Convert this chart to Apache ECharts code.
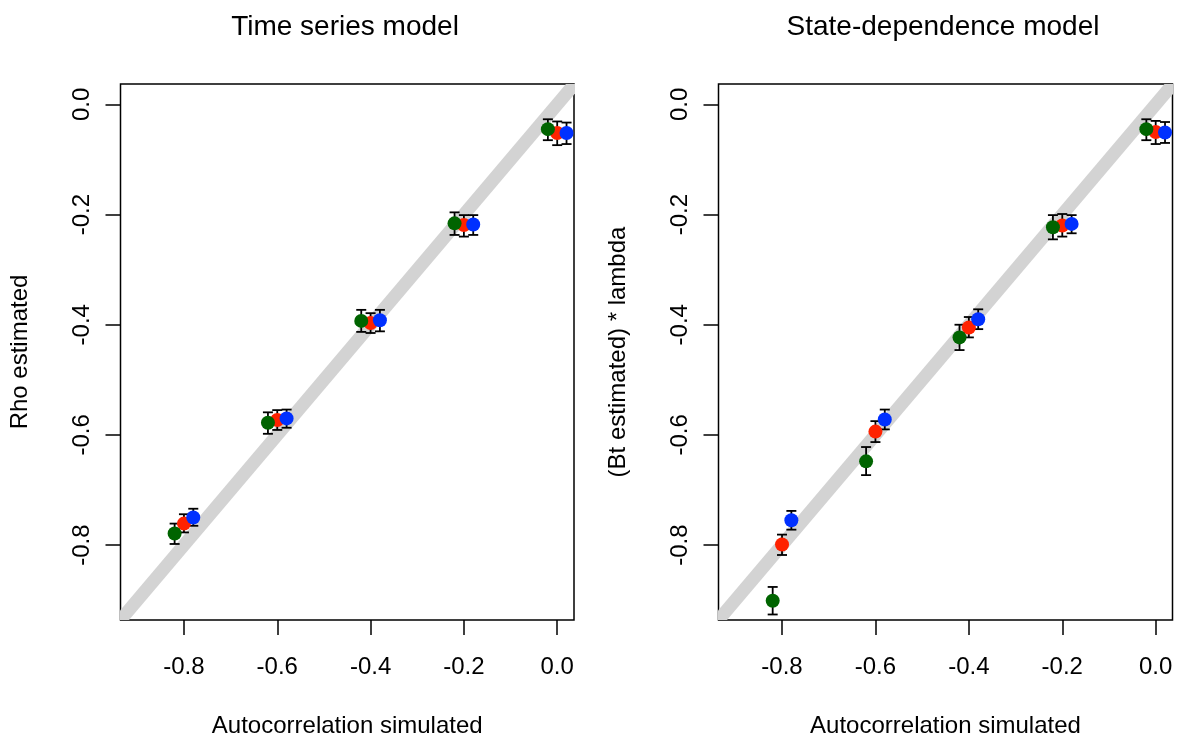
<!DOCTYPE html>
<html>
<head>
<meta charset="utf-8">
<script src="https://cdn.jsdelivr.net/npm/echarts@6/dist/echarts.min.js"></script>
<style>
  html, body { margin: 0; padding: 0; background: #fff; }
  #chart { width: 1177px; height: 743px; }
</style>
</head>
<body>
<div id="chart"></div>
<script>
// Simulated autocorrelation levels (x) and tick positions
const simulated = [-0.8, -0.6, -0.4, -0.2, 0.0];
const tickValues = [-0.8, -0.6, -0.4, -0.2, 0.0];
// ends of the 1:1 reference line
const identityEnds = [-1.1, 0.2];

// Time series model: estimated rho with lower / upper bounds
const tsGreen   = [-0.779, -0.578, -0.393, -0.216, -0.045];
const tsGreenLo = [-0.798, -0.598, -0.413, -0.237, -0.065];
const tsGreenHi = [-0.761, -0.559, -0.373, -0.196, -0.027];
const tsRed     = [-0.761, -0.573, -0.397, -0.219, -0.052];
const tsRedLo   = [-0.777, -0.591, -0.415, -0.240, -0.074];
const tsRedHi   = [-0.744, -0.555, -0.379, -0.201, -0.031];
const tsBlue    = [-0.750, -0.570, -0.392, -0.218, -0.052];
const tsBlueLo  = [-0.765, -0.587, -0.412, -0.237, -0.072];
const tsBlueHi  = [-0.734, -0.554, -0.373, -0.201, -0.033];

// State-dependence model: (Bt estimated) * lambda with lower / upper bounds
const sdGreen   = [-0.901, -0.648, -0.423, -0.223, -0.045];
const sdGreenLo = [-0.926, -0.673, -0.446, -0.245, -0.065];
const sdGreenHi = [-0.876, -0.622, -0.400, -0.201, -0.027];
const sdRed     = [-0.799, -0.594, -0.405, -0.220, -0.050];
const sdRedLo   = [-0.818, -0.613, -0.423, -0.240, -0.072];
const sdRedHi   = [-0.781, -0.575, -0.386, -0.199, -0.030];
const sdBlue    = [-0.755, -0.572, -0.390, -0.217, -0.051];
const sdBlueLo  = [-0.772, -0.590, -0.408, -0.234, -0.070];
const sdBlueHi  = [-0.738, -0.554, -0.372, -0.201, -0.032];

const FONT = '"Liberation Sans", Arial, Helvetica, sans-serif';
const COLORS = { green: '#006400', red: '#ff2200', blue: '#0030ff' };
// small horizontal dodge so the three groups do not overlap
const DODGE = { green: -0.02, red: 0, blue: 0.02 };

const panels = [
  {
    title: 'Time series model', titleX: 340,
    yName: 'Rho estimated',
    grid: { left: 120.5, top: 84, width: 453.5, height: 536 },
    groups: {
      red:   [tsRed, tsRedLo, tsRedHi],
      green: [tsGreen, tsGreenLo, tsGreenHi],
      blue:  [tsBlue, tsBlueLo, tsBlueHi]
    }
  },
  {
    title: 'State-dependence model', titleX: 938,
    yName: '(Bt estimated) * lambda',
    grid: { left: 718.5, top: 84, width: 454, height: 536 },
    groups: {
      red:   [sdRed, sdRedLo, sdRedHi],
      green: [sdGreen, sdGreenLo, sdGreenHi],
      blue:  [sdBlue, sdBlueLo, sdBlueHi]
    }
  }
];

const fmt = v => Number(v).toFixed(1);
const tickStyle = { show: true, length: 15, inside: false, customValues: tickValues,
                    lineStyle: { color: '#000', width: 1.5 } };

const grids = [], xAxes = [], yAxes = [], titles = [], series = [];

panels.forEach((p, i) => {
  grids.push(Object.assign({ show: true, borderColor: '#000', borderWidth: 1.5,
                             backgroundColor: 'transparent' }, p.grid));
  titles.push({
    text: p.title, left: p.titleX, top: 8, textAlign: 'center',
    textStyle: { fontFamily: FONT, fontSize: 28, fontWeight: 'normal', color: '#000' }
  });
  xAxes.push({
    type: 'value', gridIndex: i, min: -0.936, max: 0.036, position: 'bottom',
    name: 'Autocorrelation simulated', nameLocation: 'middle', nameGap: 94,
    nameTextStyle: { fontFamily: FONT, fontSize: 24, color: '#000' },
    axisLine: { show: false, onZero: false }, splitLine: { show: false },
    axisTick: tickStyle,
    axisLabel: { customValues: tickValues, formatter: fmt, margin: 35,
                 fontFamily: FONT, fontSize: 24, color: '#000' }
  });
  yAxes.push({
    type: 'value', gridIndex: i, min: -0.936, max: 0.037, position: 'left',
    name: p.yName, nameLocation: 'middle', nameGap: 88,
    nameTextStyle: { fontFamily: FONT, fontSize: 24, color: '#000' },
    axisLine: { show: false, onZero: false }, splitLine: { show: false },
    axisTick: tickStyle,
    axisLabel: { customValues: tickValues, formatter: fmt, rotate: 90, margin: 26,
                 fontFamily: FONT, fontSize: 24, color: '#000' }
  });

  // 1:1 reference band, clipped exactly to the plot box
  series.push({
    type: 'custom', name: 'identity', xAxisIndex: i, yAxisIndex: i,
    silent: true, clip: true, z: 1,
    data: [[identityEnds[0], identityEnds[0], identityEnds[1], identityEnds[1]]],
    encode: { x: [0, 2], y: [1, 3] },
    renderItem: (params, api) => {
      const a = api.coord([api.value(0), api.value(1)]);
      const b = api.coord([api.value(2), api.value(3)]);
      return {
        type: 'line',
        shape: { x1: a[0], y1: a[1], x2: b[0], y2: b[1] },
        style: { stroke: '#d3d3d3', lineWidth: 13 }
      };
    }
  });

  Object.keys(p.groups).forEach(key => {
    const [est, lo, hi] = p.groups[key];
    const xs = simulated.map(s => s + DODGE[key]);
    // error bars with caps
    series.push({
      type: 'custom', name: key + ' interval', xAxisIndex: i, yAxisIndex: i, z: 2,
      silent: true, clip: true,
      data: xs.map((x, k) => [x, lo[k], hi[k]]),
      encode: { x: 0, y: [1, 2] },
      renderItem: (params, api) => {
        const x = api.value(0);
        const a = api.coord([x, api.value(2)]);
        const b = api.coord([x, api.value(1)]);
        const w = 5;
        const st = { stroke: '#000', lineWidth: 1.8 };
        return {
          type: 'group',
          children: [
            { type: 'line', shape: { x1: a[0], y1: a[1], x2: b[0], y2: b[1] }, style: st },
            { type: 'line', shape: { x1: a[0] - w, y1: a[1], x2: a[0] + w, y2: a[1] }, style: st },
            { type: 'line', shape: { x1: b[0] - w, y1: b[1], x2: b[0] + w, y2: b[1] }, style: st }
          ]
        };
      }
    });
    // estimated points
    series.push({
      type: 'scatter', name: key, xAxisIndex: i, yAxisIndex: i, z: 3,
      symbol: 'circle', symbolSize: 14,
      itemStyle: { color: COLORS[key], opacity: 1 },
      data: xs.map((x, k) => [x, est[k]])
    });
  });
});

const chart = echarts.init(document.getElementById('chart'), null, { renderer: 'canvas' });
chart.setOption({
  animation: false,
  backgroundColor: '#fff',
  title: titles,
  grid: grids,
  xAxis: xAxes,
  yAxis: yAxes,
  series: series
});
</script>
</body>
</html>
